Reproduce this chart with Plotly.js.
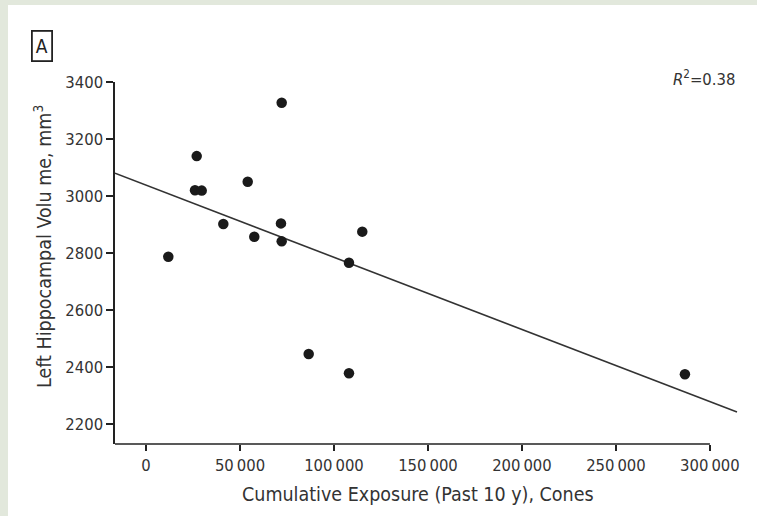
<!DOCTYPE html>
<html>
<head>
<meta charset="utf-8">
<script src="https://cdn.plot.ly/plotly-3.0.1.min.js"></script>
<style>html,body{margin:0;padding:0;background:#e2e8dc;}#chart{width:757px;height:516px;}</style>
</head>
<body>
<div id="chart"></div>
<script>
// Data
const exposure = [72180, 26970, 26060, 29630, 54100, 41120, 71800, 57600, 72180, 11860, 115050, 107980, 86540, 107980, 286700];
const volume   = [3327, 3140, 3020, 3019, 3050, 2902, 2904, 2857, 2841, 2787, 2875, 2766, 2446, 2378, 2375];
const fitX = [-16500, 314400];
const fitY = [3080, 2242];
const xTickVals = [0, 50000, 100000, 150000, 200000, 250000, 300000];
const xTickText = ['0', '50\u2009000', '100\u2009000', '150\u2009000', '200\u2009000', '250\u2009000', '300\u2009000'];
const yTickVals = [2200, 2400, 2600, 2800, 3000, 3200, 3400];
const xRange = [-16500, 316000];
const yRange = [2130, 3400];
const xAxisEnd = 300000;

const FONT = '"Liberation Sans Narrow", "DejaVu Sans Condensed", "Roboto", sans-serif';
const TXT = '#333333';

const traces = [
  {x: fitX, y: fitY, mode: 'lines', type: 'scatter', line: {color: '#333333', width: 1.6}, hoverinfo: 'skip'},
  {x: exposure, y: volume, mode: 'markers', type: 'scatter', marker: {color: '#1a1a1a', size: 10.5}, cliponaxis: false}
];

const px = v => (v - 115) / 625;
const py = v => (444 - v) / 362;

const layout = {
  width: 757, height: 516,
  margin: {l: 115, r: 17, t: 82, b: 72},
  paper_bgcolor: '#e2e8dc',
  plot_bgcolor: '#ffffff',
  showlegend: false,
  font: {family: FONT, color: TXT, size: 16},
  xaxis: {
    range: xRange, showgrid: false, zeroline: false, showline: false,
    tickmode: 'array', tickvals: xTickVals, ticktext: xTickText,
    ticks: 'outside', ticklen: 6, tickwidth: 1.6, tickcolor: '#222',
    tickfont: {family: FONT, size: 16.5, color: TXT}
  },
  yaxis: {
    range: yRange, showgrid: false, zeroline: false, showline: true,
    linecolor: '#222', linewidth: 1.6,
    tickmode: 'array', tickvals: yTickVals,
    ticks: 'outside', ticklen: 7, tickwidth: 1.6, tickcolor: '#222',
    tickfont: {family: FONT, size: 16.5, color: TXT}
  },
  shapes: [
    {type: 'rect', xref: 'paper', yref: 'paper', x0: px(8), x1: px(757), y0: py(516), y1: py(5),
     fillcolor: '#ffffff', line: {width: 0}, layer: 'below'},
    {type: 'line', xref: 'x', yref: 'paper', x0: xRange[0], x1: xAxisEnd, y0: 0, y1: 0,
     line: {color: '#222', width: 1.6}}
  ],
  annotations: [
    {text: 'A', xref: 'paper', yref: 'paper', x: px(42), y: py(46), xanchor: 'center', yanchor: 'middle', showarrow: false,
     font: {family: FONT, size: 19, color: '#222'}, bordercolor: '#222', borderwidth: 1.8, borderpad: 3},
    {text: '<i>R</i><sup>2</sup>=0.38', xref: 'paper', yref: 'paper', x: px(737), y: py(78),
     xanchor: 'right', yanchor: 'middle', showarrow: false, font: {family: FONT, size: 16.5, color: TXT}},
    {text: 'Left Hippocampal Volu me, mm<sup>3</sup>', xref: 'paper', yref: 'paper', x: px(43), y: py(247),
     xanchor: 'center', yanchor: 'middle', textangle: -90, showarrow: false, font: {family: FONT, size: 19.5, color: TXT}},
    {text: 'Cumulative Exposure (Past 10 y), Cones', xref: 'paper', yref: 'paper', x: px(418), y: py(494),
     xanchor: 'center', yanchor: 'middle', showarrow: false, font: {family: FONT, size: 19.5, color: TXT}}
  ]
};

Plotly.newPlot('chart', traces, layout, {displayModeBar: false, staticPlot: true});
</script>
</body>
</html>
